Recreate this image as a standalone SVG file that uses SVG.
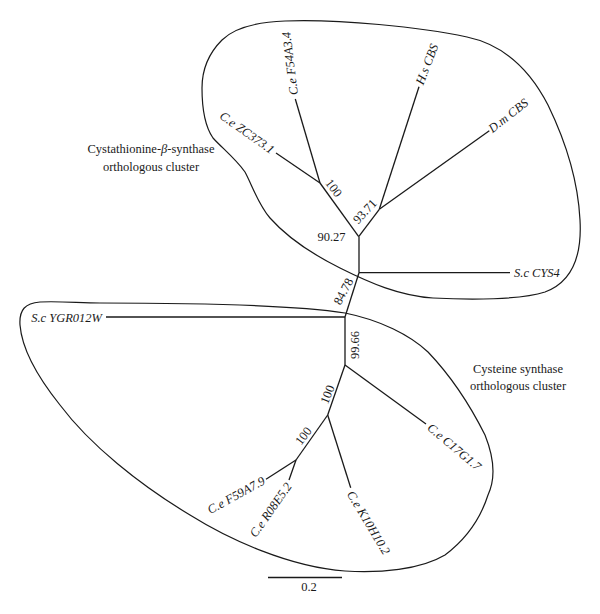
<svg xmlns="http://www.w3.org/2000/svg" width="600" height="614" viewBox="0 0 600 614">
<style>
.br{stroke:#1a1a1a;stroke-width:1.3;fill:none;stroke-linecap:butt}
.cl{stroke:#1a1a1a;stroke-width:1.2;fill:none}
.lf{font-family:"Liberation Serif",serif;font-style:italic;font-size:12.5px;fill:#1a1a1a}
.bs{font-family:"Liberation Serif",serif;font-size:12.5px;fill:#1a1a1a}
.lb{font-family:"Liberation Serif",serif;font-size:12.5px;fill:#1a1a1a;text-anchor:middle}
</style>
<rect width="600" height="614" fill="#fff"/>
<g id="cluster-cbs">
<path class="cl" d="M 285,21 C 340,19 420,27 467,37 C 505,45 530,70 548,105 C 565,140 578,180 580,220 C 582,255 572,282 545,292 C 520,300 470,300 433,298 C 400,296 370,283 340,268 C 310,253 285,235 270,218 C 258,204 252,185 245,172 C 235,158 222,148 213,138 C 204,125 202,105 202,88 C 202,68 210,52 222,40 C 235,27 260,22 285,21 Z"/>
<text class="lb" x="151" y="153">Cystathionine-<tspan font-style="italic">β</tspan>-synthase</text>
<text class="lb" x="151" y="171">orthologous cluster</text>
</g>
<g id="cluster-cs">
<path class="cl" d="M 100,303 C 200,303 300,306 345,313 C 380,320 410,335 428,352 C 450,375 470,405 485,435 C 495,460 495,480 488,495 C 480,520 465,540 445,555 C 420,570 380,573 345,571 C 290,567 230,540 190,515 C 140,485 90,445 60,405 C 40,380 22,350 20,325 C 19,310 25,303 40,302 C 60,301 80,303 100,303 Z"/>
<text class="lb" x="518" y="373">Cysteine synthase</text>
<text class="lb" x="518" y="390">orthologous cluster</text>
</g>
<g id="connectors">
<line class="br" x1="320" y1="183" x2="295.3" y2="99"/>
<line class="br" x1="320" y1="183" x2="276" y2="153"/>
<line class="br" x1="320" y1="183" x2="358.7" y2="236.7"/>
<line class="br" x1="358.7" y1="236.7" x2="379.3" y2="209.3"/>
<line class="br" x1="379.3" y1="209.3" x2="419" y2="86.7"/>
<line class="br" x1="379.3" y1="209.3" x2="489.3" y2="130.7"/>
<line class="br" x1="359" y1="236.7" x2="359" y2="272.7"/>
<line class="br" x1="359" y1="272.7" x2="510" y2="272.7"/>
<line class="br" x1="359" y1="272.7" x2="345" y2="317"/>
<line class="br" x1="345" y1="317" x2="106" y2="317"/>
<line class="br" x1="345" y1="317" x2="345" y2="365"/>
<line class="br" x1="345" y1="365" x2="426" y2="424"/>
<line class="br" x1="345" y1="365" x2="327.7" y2="415"/>
<line class="br" x1="327.7" y1="415" x2="350.7" y2="487.7"/>
<line class="br" x1="327.7" y1="415" x2="296" y2="460"/>
<line class="br" x1="296" y1="460" x2="266" y2="479.3"/>
<line class="br" x1="296" y1="460" x2="289" y2="480"/>
</g>
<g id="bootstrap">
<text class="bs" text-anchor="middle" transform="translate(333.5,188) rotate(53)" y="4">100</text>
<text class="bs" text-anchor="middle" transform="translate(365,211.5) rotate(-47)" y="4">93.71</text>
<text class="bs" text-anchor="middle" x="331.5" y="241">90.27</text>
<text class="bs" text-anchor="middle" transform="translate(343.5,291.5) rotate(-62)" y="4">84.78</text>
<text class="bs" text-anchor="middle" transform="translate(355,345) rotate(-90)" y="4">99.66</text>
<text class="bs" text-anchor="middle" transform="translate(327.5,394.5) rotate(-68)" y="4">100</text>
<text class="bs" text-anchor="middle" transform="translate(303.5,436) rotate(-52)" y="4">100</text>
</g>
<g id="node-Ce-F54A3.4"><text class="lf" transform="translate(294,95) rotate(-97)" y="4">C.e F54A3.4</text></g>
<g id="node-Ce-ZC373.1"><text class="lf" text-anchor="end" transform="translate(273,151) rotate(35)" y="4">C.e ZC373.1</text></g>
<g id="node-Hs-CBS"><text class="lf" transform="translate(419.5,84) rotate(-69)" y="4">H.s CBS</text></g>
<g id="node-Dm-CBS"><text class="lf" transform="translate(490,130) rotate(-38)" y="4">D.m CBS</text></g>
<g id="node-Sc-CYS4"><text class="lf" x="514" y="277">S.c CYS4</text></g>
<g id="node-Sc-YGR012W"><text class="lf" text-anchor="end" x="102" y="322">S.c YGR012W</text></g>
<g id="node-Ce-C17G1.7"><text class="lf" transform="translate(429,426) rotate(40)" y="4">C.e C17G1.7</text></g>
<g id="node-Ce-K10H10.2"><text class="lf" transform="translate(350,492) rotate(59)" y="4">C.e K10H10.2</text></g>
<g id="node-Ce-F59A7.9"><text class="lf" text-anchor="end" transform="translate(264,480) rotate(-29)" y="4">C.e F59A7.9</text></g>
<g id="node-Ce-R08E5.2"><text class="lf" text-anchor="end" transform="translate(289,484) rotate(-55)" y="4">C.e R08E5.2</text></g>
<g id="scale-bar">
<line class="br" x1="268" y1="577.5" x2="342" y2="577.5"/>
<text class="lb" x="309" y="591">0.2</text>
</g>
</svg>
